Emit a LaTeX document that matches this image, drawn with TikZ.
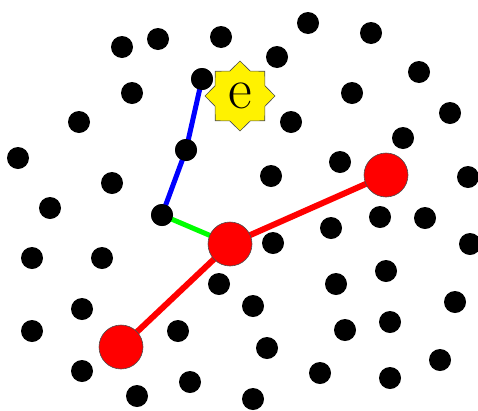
\documentclass[tikz,border=0pt]{standalone}
\usetikzlibrary{shapes.geometric}
\begin{document}
\begin{tikzpicture}[x=1pt,y=-1pt,
  dot/.style={circle,fill=black,inner sep=0pt,minimum size=22pt},
  bigred/.style={circle,fill=red,draw=black!70,line width=0.6pt,inner sep=0pt,minimum size=44pt},
  estar/.style={star,star points=8,star point ratio=1.3,fill=yellow,draw=black!70,line width=0.6pt,inner sep=0pt,minimum size=70pt,font=\fontsize{58}{58}\selectfont},
  blueline/.style={blue,line width=5pt},
  greenline/.style={green,line width=5pt},
  redline/.style={red,line width=6pt}]
\useasboundingbox (0,0) rectangle (478,410);
% black dots
\foreach \n/\x/\y in {1/122/47,2/158/39,3/221/37,5/132/93,6/79/122,8/18/158,9/112/183,10/50/208,
  11/308/23,12/371/33,13/277/57,14/419/72,15/352/93,16/291/122,17/450/113,18/403/138,19/271/176,20/340/162,21/468/177,
  23/32/258,24/102/258,25/219/284,26/82/309,27/32/331,28/178/331,29/82/371,30/190/382,31/137/396,
  32/273/243,33/331/228,34/380/217,35/425/218,36/470/244,37/386/271,38/336/284,39/253/306,40/455/302,41/390/322,42/345/330,43/267/348,44/440/360,45/320/373,46/390/378,47/253/399}
  \node[dot] (d\n) at (\x,\y) {};
% path dots
\node[dot] (p1) at (202,79) {};
\node[dot] (p2) at (186,150) {};
\node[dot] (p3) at (162,215) {};
% red node centres
\coordinate (r1c) at (386,175);
\coordinate (r2c) at (230,244);
\coordinate (r3c) at (121,347);
% connectors (beneath)
\draw[blueline] (p1.center) -- (p2.center) -- (p3.center);
\draw[greenline] (p3.center) -- (r2c);
\draw[redline] (r3c) -- (r2c) -- (r1c);
% redraw path dots on top
\node[dot] at (p1) {};
\node[dot] at (p2) {};
\node[dot] at (p3) {};
\node[bigred] (r1) at (r1c) {};
\node[bigred] (r2) at (r2c) {};
\node[bigred] (r3) at (r3c) {};
% star
\node[estar] (e) at (240,96) {e};
\end{tikzpicture}
\end{document}
